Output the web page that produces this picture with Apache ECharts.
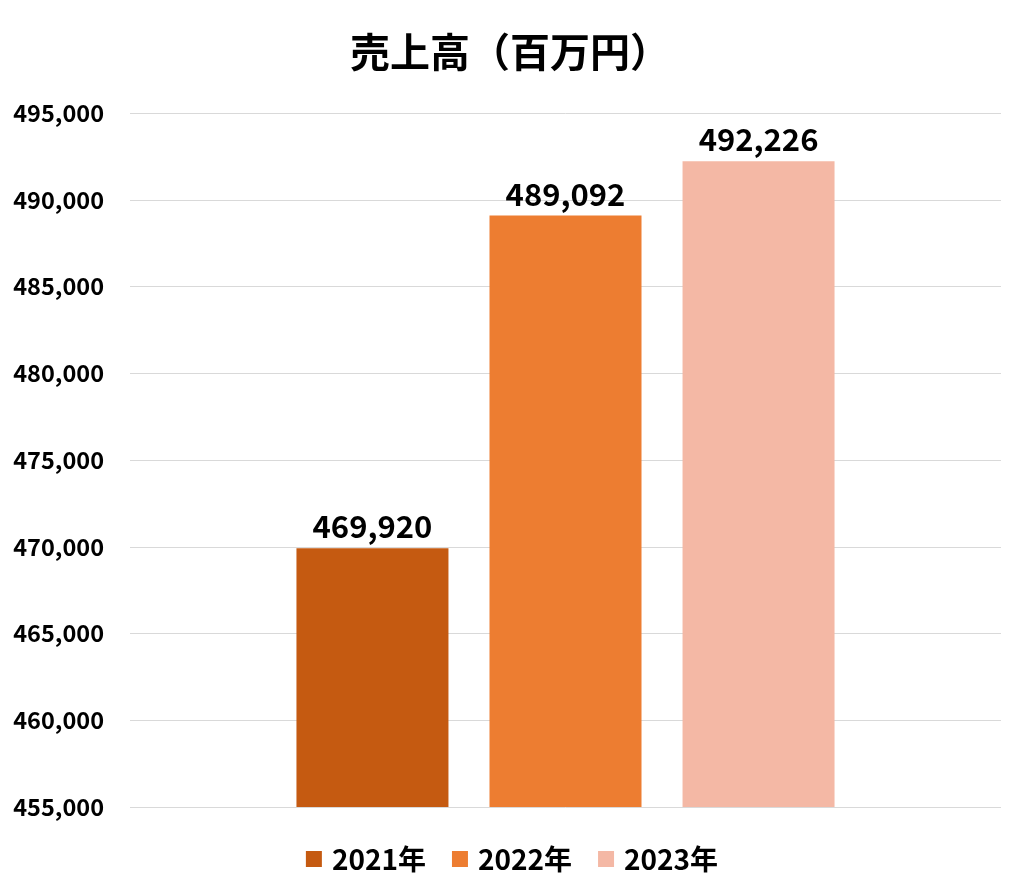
<!DOCTYPE html>
<html>
<head>
<meta charset="utf-8">
<script src="https://cdn.jsdelivr.net/npm/echarts@6/dist/echarts.min.js"></script>
<style>html,body{margin:0;padding:0;background:#fff}#c{width:1024px;height:895px}</style>
</head>
<body>
<div id="c"></div>
<script>
const titleText = '売上高（百万円）';
const seriesNames = ['2021年', '2022年', '2023年'];
const seriesValues = [469920, 489092, 492226];
const seriesColors = ['#C55A11', '#ED7D31', '#F4B8A5'];
const yMin = 455000, yMax = 495000, yStep = 5000;

const FONT = '"Noto Sans CJK JP", "Noto Sans", sans-serif';
const chart = echarts.init(document.getElementById('c'));
chart.setOption({
  animation: false,
  backgroundColor: '#fff',
  title: {
    text: titleText, left: 345, top: 27,
    textStyle: { fontFamily: FONT, fontSize: 40, fontWeight: 'bold', color: '#000' }
  },
  legend: {
    top: 840, left: 'center', itemWidth: 16, itemHeight: 16, itemGap: 26, icon: 'rect',
    textStyle: { fontFamily: FONT, fontSize: 28, fontWeight: 'bold', color: '#000', padding: [0, 0, 0, 5] }
  },
  grid: { left: 130, right: 23, top: 113, bottom: 88, containLabel: false },
  xAxis: {
    type: 'category', data: [''],
    axisLine: { show: false }, axisTick: { show: false }, axisLabel: { show: false }
  },
  yAxis: {
    type: 'value', min: yMin, max: yMax, interval: yStep,
    axisLine: { show: false }, axisTick: { show: false },
    splitLine: { lineStyle: { color: '#d9d9d9', width: 1 } },
    axisLabel: {
      margin: 26, fontFamily: FONT, fontSize: 23.5, fontWeight: 'bold', color: '#000',
      formatter: v => v.toLocaleString('en-US')
    }
  },
  series: seriesNames.map((n, i) => ({
    name: n, type: 'bar', data: [seriesValues[i]],
    barWidth: 152, barGap: '27%',
    itemStyle: { color: seriesColors[i] },
    label: {
      show: true, position: 'top', distance: 6,
      fontFamily: FONT, fontSize: 31, fontWeight: 'bold', color: '#000',
      formatter: p => p.value.toLocaleString('en-US')
    }
  }))
});
</script>
</body>
</html>
